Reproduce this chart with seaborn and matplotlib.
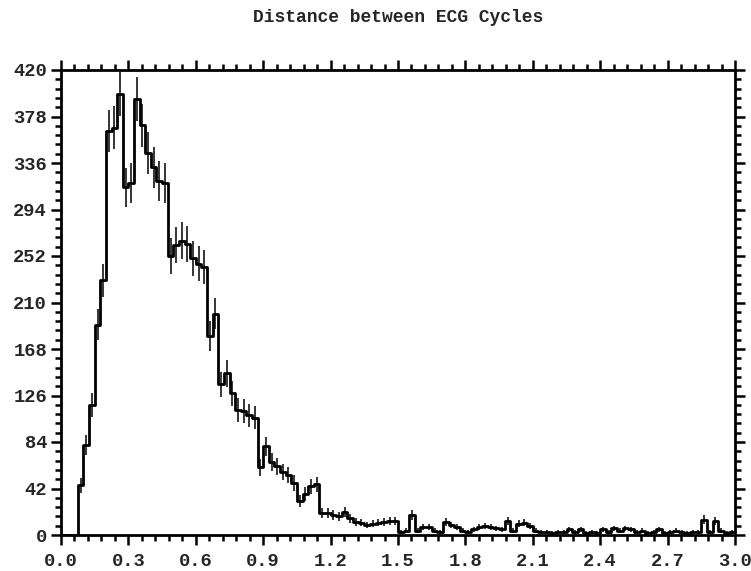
import numpy as np
import pandas as pd
import matplotlib
matplotlib.use("Agg")
import matplotlib.pyplot as plt
import seaborn as sns
from matplotlib.ticker import MultipleLocator, FixedLocator

# ---- data ----
title = "Distance between ECG Cycles"
bin_width = 0.025
x_min, x_max = 0.0, 3.0
counts = [
    0, 0, 0, 45, 81, 117, 190, 230, 365, 368,          # 0.000 - 0.250
    398, 314, 318, 394, 370, 345, 332, 320, 318, 252,  # 0.250 - 0.500
    262, 266, 263, 250, 245, 242, 180, 200, 136, 146,  # 0.500 - 0.750
    128, 113, 112, 108, 106, 61, 80, 66, 62, 57,       # 0.750 - 1.000
    54, 47, 31, 37, 44, 46, 20, 20, 18, 17,            # 1.000 - 1.250
    21, 15, 12, 11, 9, 10, 11, 12, 13, 13,             # 1.250 - 1.500
    3, 4, 18, 4, 7, 7, 4, 3, 12, 9,                    # 1.500 - 1.750
    7, 4, 3, 5, 7, 8, 7, 6, 5, 13,                     # 1.750 - 2.000
    4, 10, 11, 8, 4, 3, 3, 2, 3, 3,                    # 2.000 - 2.250
    5, 3, 5, 2, 3, 2, 5, 3, 6, 4,                      # 2.250 - 2.500
    6, 5, 3, 4, 2, 3, 5, 2, 3, 4,                      # 2.500 - 2.750
    3, 2, 3, 3, 14, 3, 13, 4, 2, 3,                    # 2.750 - 3.000
]
x_ticks = [0.0, 0.3, 0.6, 0.9, 1.2, 1.5, 1.8, 2.1, 2.4, 2.7, 3.0]
x_tick_labels = ["0.0", "0.3", "0.6", "0.9", "1.2", "1.5", "1.8", "2.1", "2.4", "2.7", "3.0"]
y_ticks = [0, 42, 84, 126, 168, 210, 252, 294, 336, 378, 420]

# ---- derived table ----
edges = x_min + bin_width * np.arange(len(counts) + 1)
centers = edges[:-1] + bin_width / 2
df = pd.DataFrame({"distance": centers, "count": np.array(counts, dtype=float)})
df["err"] = np.sqrt(df["count"])

sns.set_style("ticks")
plt.rcParams["font.family"] = ["Liberation Mono", "DejaVu Sans Mono"]

fig = plt.figure(figsize=(7.51, 5.71), dpi=100)
ax = fig.add_axes([61 / 751, 1 - 535 / 571, (735 - 61) / 751, (535 - 70) / 571])

sns.histplot(data=df, x="distance", weights="count",
             binwidth=bin_width, binrange=(x_min, x_max),
             element="step", fill=False, color="black", linewidth=2.0, ax=ax)

nz = df[df["count"] > 0]
ax.vlines(nz["distance"], nz["count"] - nz["err"], nz["count"] + nz["err"],
          color="black", linewidth=1.1)

ax.set_xlim(x_min, x_max)
ax.set_ylim(0, 420)
ax.set_xlabel("")
ax.set_ylabel("")

ax.xaxis.set_major_locator(FixedLocator(x_ticks))
ax.set_xticklabels(x_tick_labels)
ax.xaxis.set_minor_locator(MultipleLocator(0.06))
ax.yaxis.set_major_locator(FixedLocator(y_ticks))
ax.yaxis.set_minor_locator(MultipleLocator(8.4))

for spine in ax.spines.values():
    spine.set_visible(True)
    spine.set_linewidth(2.0)
    spine.set_color("black")

ax.tick_params(which="both", direction="out", top=True, right=True,
               color="black", width=1.8)
ax.tick_params(which="major", length=7, labelsize=13.5)
ax.tick_params(axis="y", which="major", pad=3)
ax.tick_params(axis="x", which="major", pad=6)
ax.tick_params(which="minor", length=4)
for lbl in ax.get_xticklabels() + ax.get_yticklabels():
    lbl.set_fontweight("bold")

fig.text(398 / 751, 1 - 18 / 571, title, ha="center", va="center",
         fontsize=13, fontweight="bold")

fig.savefig("out.png", dpi=100, facecolor="white")
